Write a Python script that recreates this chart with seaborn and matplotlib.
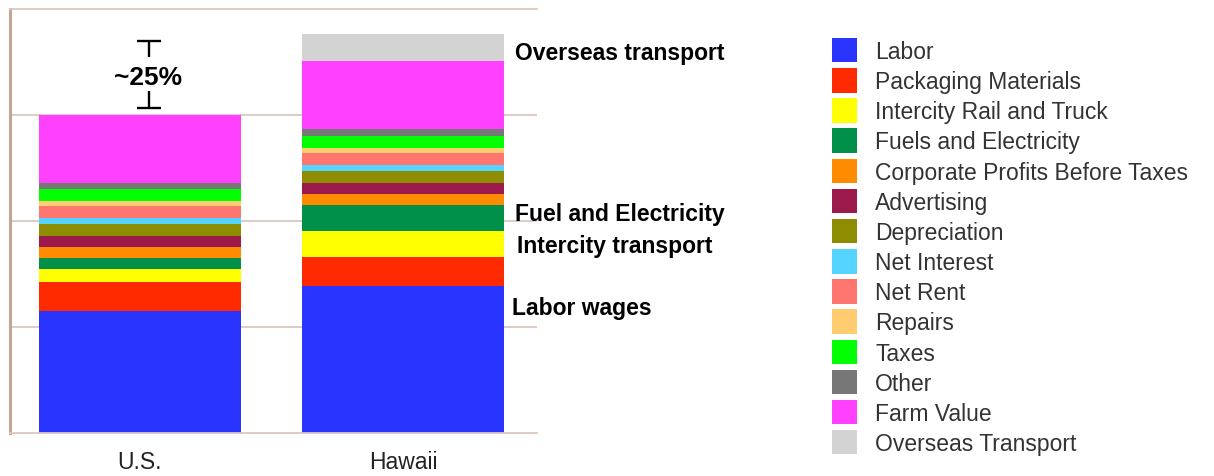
import matplotlib
matplotlib.use("Agg")
import matplotlib.pyplot as plt
from matplotlib.patches import Patch
import numpy as np
import pandas as pd
import seaborn as sns

# Share of the retail food dollar (U.S. total = 100)
regions = ["U.S.", "Hawaii"]
components = [
    "Labor", "Packaging Materials", "Intercity Rail and Truck",
    "Fuels and Electricity", "Corporate Profits Before Taxes", "Advertising",
    "Depreciation", "Net Interest", "Net Rent", "Repairs", "Taxes", "Other",
    "Farm Value", "Overseas Transport",
]
us_values = [38.5, 8.9, 4.2, 3.5, 3.3, 3.6, 3.6, 2.1, 3.6, 1.8, 3.5, 2.1, 21.3, 0.0]
hawaii_values = [46.3, 8.9, 8.3, 8.2, 3.4, 3.6, 3.6, 2.1, 3.6, 1.7, 3.8, 2.0, 21.5, 8.4]
colors = [
    "#2a34ff", "#ff2a00", "#ffff00", "#00904a", "#ff8c00", "#9b1a4b",
    "#8e8c00", "#55d4ff", "#ff7670", "#ffcc70", "#00ff00", "#777777",
    "#ff40ff", "#d3d3d3",
]

df = pd.DataFrame({"component": components, "U.S.": us_values, "Hawaii": hawaii_values})
long = df.melt(id_vars="component", var_name="region", value_name="value")
long["region"] = pd.Categorical(long["region"], categories=regions, ordered=True)
long["component"] = pd.Categorical(long["component"], categories=components, ordered=True)
long = long.sort_values(["region", "component"])
long["cum"] = long.groupby("region", observed=True)["value"].cumsum()

sns.set_theme(style="white")
plt.rcParams["font.family"] = ["Liberation Sans", "DejaVu Sans"]

fig = plt.figure(figsize=(12.14, 4.77), dpi=100)
ax = fig.add_axes([10 / 1214, 43 / 477, 527 / 1214, 424 / 477])

grid_c = "#dcc8bf"
spine_c = "#c4a494"
for gy in [100 / 3, 200 / 3, 100]:
    ax.axhline(gy, color=grid_c, lw=1.3, zorder=0)

# stacked bars: draw cumulative totals from the top layer down
for comp, col in reversed(list(zip(components, colors))):
    sub = long[long["component"] == comp]
    sns.barplot(data=sub, x="region", y="cum", order=regions, color=col,
                width=0.768, saturation=1, edgecolor="none", linewidth=0,
                ax=ax, zorder=2)

ax.set_xlim(-0.494, 1.51)
ax.set_ylim(0, 400 / 3)
ax.set_xlabel("")
ax.set_ylabel("")
ax.set_yticks([])
ax.tick_params(axis="x", length=0, pad=12, labelsize=16.5, labelcolor="#222222")

for side in ["left", "top", "bottom"]:
    ax.spines[side].set_visible(True)
    ax.spines[side].set_color(spine_c if side == "left" else grid_c)
ax.spines["left"].set_linewidth(2.2)
ax.spines["top"].set_linewidth(1.3)
ax.spines["bottom"].set_linewidth(1.3)
ax.spines["right"].set_visible(False)

# bracket showing the extra cost in Hawaii
us_total = sum(us_values)
hi_total = sum(hawaii_values)
bx, half = 0.035, 0.046
top_y, bot_y = hi_total - 2.0, us_total + 2.2
kw = dict(color="black", lw=1.7, solid_capstyle="butt", zorder=5)
ax.plot([bx - half, bx + half], [top_y, top_y], **kw)
ax.plot([bx, bx], [top_y, top_y - 5.3], **kw)
ax.plot([bx - half, bx + half], [bot_y, bot_y], **kw)
ax.plot([bx, bx], [bot_y, bot_y + 5.3], **kw)
ax.text(bx - 0.004, (top_y + bot_y) / 2 - 1.0, "~25%", ha="center", va="center",
        fontsize=19, fontweight="bold", color="black")

# callouts beside the Hawaii bar
def px_to_x(px):
    return -0.494 + (px - 10) / 263.5

for label, px, yv in [("Overseas transport", 516, 119.6),
                      ("Fuel and Electricity", 516, 69.0),
                      ("Intercity transport", 518, 58.9),
                      ("Labor wages", 513, 39.4)]:
    ax.text(px_to_x(px), yv, label, ha="left", va="center", fontsize=16.5,
            fontweight="bold", color="black", clip_on=False)

handles = [Patch(facecolor=c, edgecolor="none", label=n) for n, c in zip(components, colors)]
fig.legend(handles=handles, loc="upper left", bbox_to_anchor=(832 / 1214, 1 - 39 / 477),
           frameon=False, fontsize=16.5, handlelength=1.09, handleheight=1.26,
           handletextpad=0.79, labelspacing=0.23, borderpad=0, borderaxespad=0,
           labelcolor="#333333")

fig.savefig("out.png", dpi=100)
